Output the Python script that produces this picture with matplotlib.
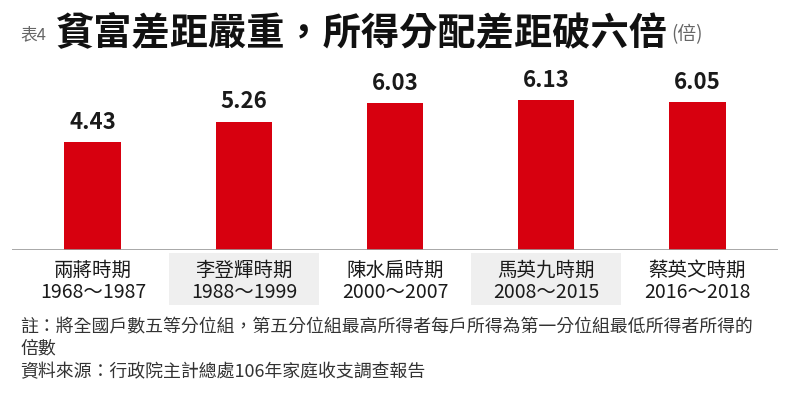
import matplotlib
matplotlib.use("Agg")
import matplotlib.pyplot as plt
from matplotlib.patches import Rectangle

plt.rcParams['font.family'] = ['Noto Sans CJK TC', 'DejaVu Sans']

periods = ['兩蔣時期', '李登輝時期', '陳水扁時期', '馬英九時期', '蔡英文時期']
years = ['1968～1987', '1988～1999', '2000～2007', '2008～2015', '2016～2018']
values = [4.43, 5.26, 6.03, 6.13, 6.05]

W, H = 792, 394
fig = plt.figure(figsize=(W / 100, H / 100), dpi=100)
fig.patch.set_facecolor('white')

# axes: baseline at y=250px, x from 12 to 778 px
ax_left, ax_right = 12, 778
base_y, top_y = 250, 79.2
ax = fig.add_axes([ax_left / W, (H - base_y) / H, (ax_right - ax_left) / W, (base_y - top_y) / H])
ax.set_xlim(-0.536, 4.536)
ax.set_ylim(0, 7)
ax.axis('off')

red = '#D7000F'
x = list(range(len(values)))
ax.bar(x, values, width=0.377, color=red, zorder=3)
ax.axhline(0, color='#9a9a9a', lw=1.2, zorder=4)

for xi, v in zip(x, values):
    ax.annotate(f'{v:.2f}', (xi, v), xytext=(0, 6), textcoords='offset points',
                ha='center', va='bottom', fontsize=16, fontweight='bold', color='#1a1a1a')

# category label backgrounds and text
ppu = (base_y - top_y) / 7.0
for i, (p, yr) in enumerate(zip(periods, years)):
    if i % 2 == 1:
        ax.add_patch(Rectangle((i - 0.497, -(305 - base_y) / ppu), 0.994, (305 - 253) / ppu,
                               facecolor='#EFEFEF', edgecolor='none', clip_on=False, zorder=1))
    ax.text(i, -(270 - base_y) / ppu, p, ha='center', va='center', fontsize=14, color='#1a1a1a',
            clip_on=False)
    ax.text(i, -(293 - base_y) / ppu, yr, ha='center', va='center', fontsize=14, color='#1a1a1a',
            clip_on=False)

# title
fig.text(20 / W, 1 - 35 / H, '表4', fontsize=12, color='#666666', va='center', ha='left')
fig.text(55 / W, 1 - 33 / H, '貧富差距嚴重，所得分配差距破六倍', fontsize=27.5, fontweight='bold',
         color='#111111', va='center', ha='left')
fig.text(671 / W, 1 - 35 / H, '(倍)', fontsize=13.5, color='#666666', va='center', ha='left')

# notes
note_color = '#333333'
fs_note = 12.9
fig.text(20 / W, 1 - 327 / H, '註：將全國戶數五等分位組，第五分位組最高所得者每戶所得為第一分位組最低所得者所得的',
         fontsize=fs_note, color=note_color, va='center', ha='left')
fig.text(20 / W, 1 - 348 / H, '倍數', fontsize=fs_note, color=note_color, va='center', ha='left')
fig.text(20 / W, 1 - 372 / H, '資料來源：行政院主計總處106年家庭收支調查報告', fontsize=fs_note,
         color=note_color, va='center', ha='left')

fig.savefig('out.png', dpi=100, facecolor='white')
